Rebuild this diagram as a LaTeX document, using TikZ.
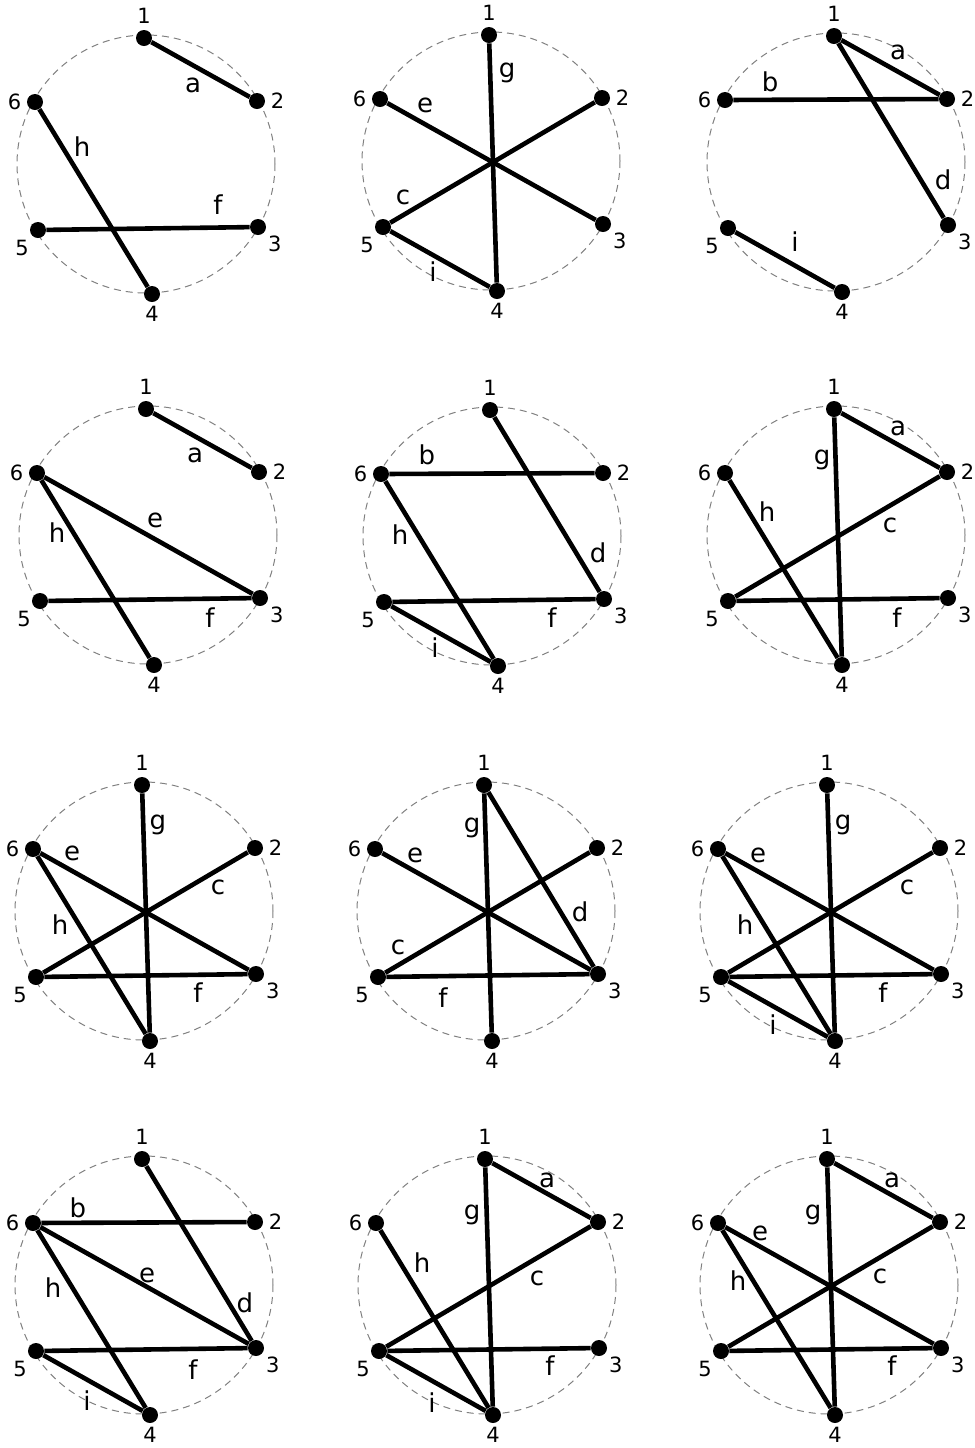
\documentclass[tikz,border=0pt]{standalone}
\usepackage{fontspec}
\setmainfont{DejaVu Sans}

\begin{document}
\begin{tikzpicture}[
        x=0.5pt, y=-0.5pt,
        ring/.style={draw=gray, dash pattern=on 3.5pt off 2.5pt, line width=0.5pt},
        vtx/.style={circle, fill=black, inner sep=0pt, minimum size=8pt},
        num/.style={font=\fontsize{10.5}{12}\selectfont, inner sep=0.5pt},
        edge/.style={line width=2.3pt},
        lbl/.style={font=\fontsize{13}{15}\selectfont, inner sep=0pt}
    ]
    \useasboundingbox (0,0) rectangle (975,1448);

    % Rings and vertices
    \foreach \p/\cx/\cy in {1/146/164, 2/491/161, 3/836/162,
                            4/148/535, 5/492/536, 6/836/535,
                            7/144/911, 8/486/911, 9/829/911,
                            10/144/1285, 11/487/1285, 12/829/1285} {
        \draw[ring] (\cx,\cy) circle[radius=129];
        \node[vtx, label={[num, label distance=2.5pt]90:1}]   (p\p-1) at (\cx-2,\cy-126) {};
        \node[vtx, label={[num, label distance=2pt]0:2}]  (p\p-2) at (\cx+111,\cy-63) {};
        \node[vtx, label={[num, label distance=1.5pt]-41:3}]  (p\p-3) at (\cx+112,\cy+63) {};
        \node[vtx, label={[num, label distance=1.2pt]-90:4}]  (p\p-4) at (\cx+6,\cy+130) {};
        \node[vtx, label={[num, label distance=1.5pt]-133:5}] (p\p-5) at (\cx-108,\cy+66) {};
        \node[vtx, label={[num, label distance=2pt]180:6}] (p\p-6) at (\cx-111,\cy-62) {};
    }

    % Edges
    \foreach \p/\es in {1/{1/2,6/4,5/3}, 2/{1/4,6/3,5/2,5/4}, 3/{1/2,6/2,1/3,5/4},
                        4/{1/2,6/3,6/4,5/3}, 5/{6/2,1/3,6/4,5/3,5/4}, 6/{1/2,1/4,5/2,6/4,5/3},
                        7/{1/4,6/3,5/2,6/4,5/3}, 8/{1/4,6/3,5/2,1/3,5/3}, 9/{1/4,6/3,5/2,6/4,5/3,5/4},
                        10/{6/2,1/3,6/3,6/4,5/3,5/4}, 11/{1/2,1/4,5/2,6/4,5/3,5/4}, 12/{1/2,1/4,6/3,5/2,6/4,5/3}}
        \foreach \u/\v in \es
            \draw[edge] (p\p-\u) -- (p\p-\v);

    % Edge labels
    \foreach \p/\t/\x/\y in {1/a/193/85, 1/h/82/147, 1/f/218/205,
                             2/g/507/73, 2/e/425/105, 2/c/403/197, 2/i/433/272,
                             3/a/898/52, 3/b/770/82, 3/d/943/180, 3/i/795/242,
                             4/a/195/455, 4/e/155/520, 4/h/57/533, 4/f/210/618,
                             5/b/427/455, 5/h/400/535, 5/d/598/553, 5/f/552/618, 5/i/435/648,
                             6/a/898/428, 6/g/822/460, 6/h/767/512, 6/c/890/525, 6/f/897/618,
                             7/g/158/825, 7/e/72/853, 7/c/218/887, 7/h/60/925, 7/f/198/993,
                             8/g/472/828, 8/e/415/855, 8/d/580/912, 8/c/398/947, 8/f/443/998,
                             9/g/843/825, 9/e/758/855, 9/c/907/887, 9/h/745/925, 9/f/883/993, 9/i/773/1025,
                             10/b/78/1208, 10/e/147/1275, 10/h/53/1288, 10/d/245/1303, 10/f/193/1370, 10/i/87/1401,
                             11/a/547/1180, 11/g/472/1215, 11/h/422/1263, 11/c/537/1278, 11/f/550/1366, 11/i/432/1403,
                             12/a/892/1180, 12/g/813/1215, 12/e/760/1233, 12/h/738/1281, 12/c/880/1276, 12/f/892/1366}
        \node[lbl] (p\p-\t) at (\x,\y) {\t};

\end{tikzpicture}
\end{document}
